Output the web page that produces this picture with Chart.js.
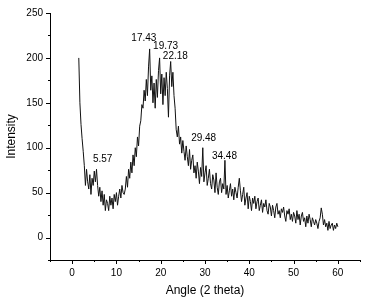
<!DOCTYPE html>
<html>
<head>
<meta charset="utf-8">
<script src="https://cdn.jsdelivr.net/npm/chart.js@4.4.1/dist/chart.umd.min.js"></script>
<style>
  html, body { margin: 0; padding: 0; background: #fff; }
  #wrap { width: 367px; height: 302px; }
</style>
</head>
<body>
<div id="wrap"><canvas id="xrdChart"></canvas></div>
<script>
// Sampling grid of the scan (degrees 2 theta)
const angleStart = 1.5;
const angleStep = 0.25;

// Intensity, one row per degree
const intensity = [
    200, 150,                 // 1.5 - 1.75
    126, 110, 96, 80,         // 2
    58, 76, 62, 54,           // 3
    70, 48, 66, 58,           // 4
    74, 62, 76, 58,           // 5
    46, 56, 40, 52,           // 6
    36, 48, 30, 42,           // 7
    38, 30, 46, 36,           // 8
    44, 32, 48, 40,           // 9
    50, 36, 46, 54,           // 10
    44, 58, 50, 48,           // 11
    54, 68, 56, 76,           // 12
    66, 84, 72, 92,           // 13
    80, 100, 90, 112,         // 14
    102, 124, 130, 148,       // 15
    144, 164, 152, 176,       // 16
    158, 190, 210, 164,       // 17
    180, 150, 172, 144,       // 18
    176, 156, 186, 200,       // 19
    160, 182, 148, 178,       // 20
    158, 184, 166, 134,       // 21
    180, 196, 168, 184,       // 22
    158, 144, 120, 112,       // 23
    124, 104, 112, 94,        // 24
    108, 96, 86, 102,         // 25
    90, 80, 98, 76,           // 26
    86, 92, 72, 80,           // 27
    66, 84, 74, 60,           // 28
    78, 68, 100, 62,          // 29
    72, 80, 58, 66,           // 30
    76, 60, 54, 70,           // 31
    64, 50, 72, 56,           // 32
    48, 62, 66, 50,           // 33
    60, 54, 86, 48,           // 34
    58, 44, 52, 60,           // 35
    46, 54, 42, 56,           // 36
    50, 44, 56, 66,           // 37
    52, 40, 48, 56,           // 38
    36, 44, 50, 32,           // 39
    46, 40, 30, 44,           // 40
    38, 46, 32, 40,           // 41
    44, 30, 36, 42,           // 42
    28, 38, 34, 42,           // 43
    30, 26, 38, 34,           // 44
    24, 36, 30, 22,           // 45
    34, 38, 26, 30,           // 46
    22, 32, 28, 34,           // 47
    24, 18, 30, 26,           // 48
    32, 20, 26, 18,           // 49
    28, 24, 16, 30,           // 50
    20, 26, 14, 24,           // 51
    28, 18, 22, 12,           // 52
    24, 16, 26, 20,           // 53
    12, 22, 18, 14,           // 54
    20, 16, 10, 18,           // 55
    22, 33, 26, 14,           // 56
    20, 12, 16, 8,            // 57
    18, 10, 14, 16,           // 58
    8, 14, 10, 16,            // 59
    12                        // 60
];

// Peak annotations (text and where the text sits, in data units)
const peakLabels = ['5.57', '17.43', '19.73', '22.18', '29.48', '34.48'];
const peakLabelX = [6.9, 16.2, 21.1, 23.3, 29.7, 34.4];
const peakLabelY = [87, 222, 213, 202, 110, 90];

// Axis ranges and tick steps
const xMin = -5, xMax = 65, xMinorStep = 5, xMajorStep = 10;
const yMin = -25, yMax = 250, yMinorStep = 25, yMajorStep = 50;

const fontFamily = '"Liberation Sans", Arial, sans-serif';

const points = intensity.map((v, i) => ({ x: angleStart + i * angleStep, y: v }));

// Draws outward tick marks (long major, short minor) and the peak labels
const xrdDecor = {
    id: 'xrdDecor',
    afterDraw(chart) {
        const { ctx, chartArea, scales } = chart;
        const x = scales.x, y = scales.y;
        ctx.save();
        ctx.strokeStyle = '#000';
        ctx.lineWidth = 1;
        ctx.beginPath();
        for (let v = xMin; v <= xMax; v += xMinorStep) {
            const px = Math.round(x.getPixelForValue(v)) + 0.5;
            const len = (v % xMajorStep === 0) ? 4 : 2;
            ctx.moveTo(px, chartArea.bottom);
            ctx.lineTo(px, chartArea.bottom + len);
        }
        for (let v = yMin; v <= yMax; v += yMinorStep) {
            const py = Math.round(y.getPixelForValue(v)) + 0.5;
            const len = (v % yMajorStep === 0) ? 4 : 2;
            ctx.moveTo(chartArea.left, py);
            ctx.lineTo(chartArea.left - len, py);
        }
        ctx.stroke();

        ctx.fillStyle = '#000';
        ctx.font = '10px ' + fontFamily;
        ctx.textAlign = 'center';
        ctx.textBaseline = 'middle';
        peakLabels.forEach((t, i) => {
            ctx.fillText(t, x.getPixelForValue(peakLabelX[i]), y.getPixelForValue(peakLabelY[i]));
        });
        ctx.restore();
    }
};

new Chart(document.getElementById('xrdChart'), {
    type: 'line',
    data: {
        datasets: [{
            data: points,
            borderColor: '#111',
            borderWidth: 1,
            pointRadius: 0,
            tension: 0,
            fill: false
        }]
    },
    options: {
        responsive: true,
        maintainAspectRatio: false,
        animation: false,
        layout: { padding: { top: 7, right: 5, bottom: 0, left: 0 } },
        plugins: {
            legend: { display: false },
            tooltip: { enabled: false }
        },
        scales: {
            x: {
                type: 'linear',
                min: xMin,
                max: xMax,
                grid: { display: false, drawTicks: false },
                border: { display: true, color: '#000', width: 1 },
                ticks: {
                    stepSize: xMinorStep,
                    padding: 7,
                    maxRotation: 0,
                    autoSkip: false,
                    color: '#000',
                    font: { family: fontFamily, size: 10 },
                    callback: v => (v >= 0 && v % xMajorStep === 0) ? String(v) : ''
                },
                title: {
                    display: true,
                    text: 'Angle (2 theta)',
                    color: '#000',
                    font: { family: fontFamily, size: 12 },
                    padding: { top: 0, bottom: 4 }
                },
                afterFit: s => { s.height = 42; }
            },
            y: {
                min: yMin,
                max: yMax,
                grid: { display: false, drawTicks: false },
                border: { display: true, color: '#000', width: 1 },
                ticks: {
                    stepSize: yMinorStep,
                    padding: 7,
                    autoSkip: false,
                    color: '#000',
                    font: { family: fontFamily, size: 10 },
                    callback: v => (v >= 0 && v % yMajorStep === 0) ? String(v) : ''
                },
                title: {
                    display: true,
                    text: 'Intensity',
                    color: '#000',
                    font: { family: fontFamily, size: 12 },
                    padding: { top: 4, bottom: 0 }
                },
                afterFit: s => { s.width = 50; }
            }
        }
    },
    plugins: [xrdDecor]
});
</script>
</body>
</html>
